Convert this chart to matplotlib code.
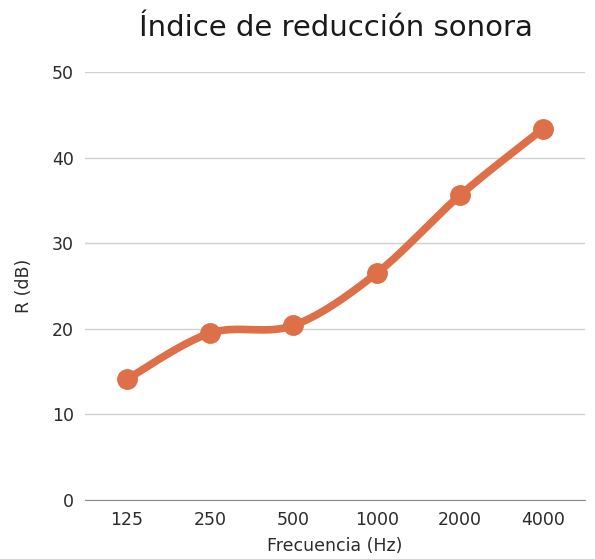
import numpy as np
import matplotlib.pyplot as plt

plt.rcParams['font.family'] = ['DejaVu Sans']

# ── Data ──────────────────────────────────────────────────────────────────────
frecuencias = ["125", "250", "500", "1000", "2000", "4000"]
r_db = [14.1, 19.5, 20.4, 26.5, 35.6, 43.4]

LINE_COLOR = "#DD7048"
TEXT_COLOR = "#2b2b2b"


def smooth_curve(xs, ys, steps=40):
    # Excel-style smoothed line: cubic Bezier segments with Catmull-Rom tangents
    xs = np.asarray(xs, float); ys = np.asarray(ys, float)
    n = len(xs)
    px, py = [], []
    for i in range(n - 1):
        x0, y0 = (xs[i - 1], ys[i - 1]) if i > 0 else (xs[i], ys[i])
        x3, y3 = (xs[i + 2], ys[i + 2]) if i + 2 < n else (xs[i + 1], ys[i + 1])
        c1x = xs[i] + (xs[i + 1] - x0) / 6; c1y = ys[i] + (ys[i + 1] - y0) / 6
        c2x = xs[i + 1] - (x3 - xs[i]) / 6; c2y = ys[i + 1] - (y3 - ys[i]) / 6
        t = np.linspace(0, 1, steps)
        b0 = (1 - t) ** 3; b1 = 3 * (1 - t) ** 2 * t; b2 = 3 * (1 - t) * t ** 2; b3 = t ** 3
        px.extend(b0 * xs[i] + b1 * c1x + b2 * c2x + b3 * xs[i + 1])
        py.extend(b0 * ys[i] + b1 * c1y + b2 * c2y + b3 * ys[i + 1])
    return np.array(px), np.array(py)


fig = plt.figure(figsize=(5.95, 5.59), dpi=100)
ax = fig.add_axes([0.143, 0.1055, 0.84, 0.7655])

x = np.arange(len(frecuencias))
sx, sy = smooth_curve(x, r_db)
ax.plot(sx, sy, color=LINE_COLOR, linewidth=5.5, solid_capstyle="round", zorder=3)
ax.plot(x, r_db, "o", color=LINE_COLOR, markersize=14, zorder=4)

ax.set_xlim(-0.5, len(frecuencias) - 0.5)
ax.set_ylim(0, 50)
ax.set_yticks(range(0, 51, 10))
ax.set_xticks(x)
ax.set_xticklabels(frecuencias)
ax.grid(axis="y", color="#D0D0D0", linewidth=1)
ax.set_axisbelow(True)
for s in ["top", "right", "left"]:
    ax.spines[s].set_visible(False)
ax.spines["bottom"].set_color("#8C8C8C")
ax.tick_params(length=0, labelsize=12.5, colors=TEXT_COLOR, pad=8)

ax.set_xlabel("Frecuencia (Hz)", fontsize=12.5, color=TEXT_COLOR, labelpad=6)
ax.set_ylabel("R (dB)", fontsize=12.5, color=TEXT_COLOR, labelpad=14)
fig.text(0.565, 0.95, "Índice de reducción sonora", fontsize=21,
         color="#1a1a1a", ha="center", va="center")

plt.savefig("out.png", dpi=100)
